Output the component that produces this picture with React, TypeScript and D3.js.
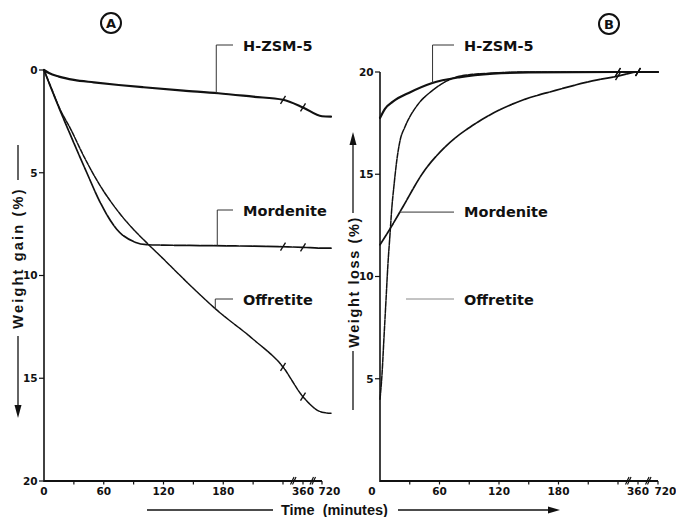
import React from 'react';
import * as d3 from 'd3';

// ---------- data ----------
const timeTicks = [0, 30, 60, 90, 120, 150, 180, 210, 240, 360, 720];
const timeTickLabels = [0, 60, 120, 180, 360, 720];
const timeBreaks = [300, 540];
const valueTicks = [0, 5, 10, 15, 20];
const breakMarkTimes = [240, 360];

// Panel A: weight gain (%)
const aZsmTime = [0, 5, 15, 30, 50, 75, 100, 140, 175, 210, 240, 360, 720, 800];
const aZsmVal = [0, 0.15, 0.32, 0.48, 0.6, 0.73, 0.84, 1.0, 1.13, 1.3, 1.45, 1.82, 2.25, 2.27];
const aMorTime = [0, 8, 16, 26, 43, 56, 73, 90, 103, 120, 170, 240, 360, 720, 800];
const aMorVal = [0, 1.0, 1.95, 3.1, 5.0, 6.4, 7.75, 8.35, 8.5, 8.52, 8.55, 8.6, 8.63, 8.67, 8.67];
const aOffTime = [0, 8, 16, 26, 40, 56, 70, 85, 103, 120, 143, 174, 210, 240, 360, 720, 800];
const aOffVal = [0, 0.95, 1.9, 2.8, 4.2, 5.6, 6.6, 7.5, 8.4, 9.2, 10.3, 11.7, 13.1, 14.45, 15.9, 16.65, 16.7];

// Panel B: weight loss (%)
const bZsmTime = [0, 5, 13, 30, 52, 81, 114, 150, 240, 360, 720];
const bZsmVal = [17.75, 18.2, 18.55, 19.0, 19.45, 19.75, 19.92, 19.98, 20, 20, 20];
const bMorTime = [0, 11, 23, 43, 66, 97, 137, 177, 218, 240, 360, 720];
const bMorVal = [11.55, 12.4, 13.4, 15.05, 16.35, 17.5, 18.5, 19.1, 19.6, 19.8, 20, 20];
const bOffTime = [0, 2, 4, 6, 8, 10, 12, 14, 17, 20, 25, 30, 38, 53, 67, 81, 114, 150, 240, 360, 720];
const bOffVal = [4.0, 5.2, 7.0, 8.8, 10.6, 12.0, 13.4, 14.4, 15.7, 16.6, 17.3, 17.8, 18.4, 19.1, 19.55, 19.8, 19.95, 20, 20, 20, 20];

const seriesNames = ['H-ZSM-5', 'Mordenite', 'Offretite'];

// ---------- layout ----------
const W = 676, H = 517;
const timeDomain = [0, 240, 360, 720, 800];
const xA = d3.scaleLinear().domain(timeDomain).range([44, 283, 303, 322, 331]);
const xB = d3.scaleLinear().domain(timeDomain).range([380, 618, 638, 658, 667]);
const yA = d3.scaleLinear().domain([0, 20]).range([70, 481]);
const yB = d3.scaleLinear().domain([0, 20]).range([481, 72]);

const LABEL_FONT = '"DejaVu Sans", sans-serif';
const TIME_FONT = '"Liberation Sans", Arial, sans-serif';

type Series = { t: number[]; v: number[]; width: number; dash?: string };

const styles = [
  { width: 2.2, dash: undefined },
  { width: 1.7, dash: '12 1.2' },
  { width: 1.5, dash: '5 1.2' },
];

const seriesA: Series[] = [
  { t: aZsmTime, v: aZsmVal, ...styles[0] },
  { t: aMorTime, v: aMorVal, ...styles[1] },
  { t: aOffTime, v: aOffVal, ...styles[2] },
];
const seriesB: Series[] = [
  { t: bZsmTime, v: bZsmVal, ...styles[0] },
  { t: bMorTime, v: bMorVal, ...styles[1] },
  { t: bOffTime, v: bOffVal, ...styles[2] },
];

function valueAt(s: Series, t: number) {
  return d3.scaleLinear().domain(s.t).range(s.v)(t);
}

function Curves({ series, x, y }: { series: Series[]; x: any; y: any }) {
  const gen = d3.line<[number, number]>().x(d => x(d[0])).y(d => y(d[1])).curve(d3.curveMonotoneX);
  return (
    <g>
      {series.map((s, i) => {
        const pts = s.t.map((t, j) => [t, s.v[j]] as [number, number]);
        return (
          <g key={i}>
            <path d={gen(pts) || ''} fill="none" stroke="#111" strokeWidth={s.width}
              strokeDasharray={s.dash} strokeLinejoin="round" strokeLinecap="round" />
            {breakMarkTimes.map(bt => {
              const px = x(bt), py = y(valueAt(s, bt));
              return <line key={bt} x1={px - 2.5} y1={py + 4} x2={px + 2.5} y2={py - 4} stroke="#111" strokeWidth={1.4} />;
            })}
          </g>
        );
      })}
    </g>
  );
}

function TimeAxis({ x, y0, zeroDx }: { x: any; y0: number; zeroDx: number }) {
  return (
    <g stroke="#111" fill="none">
      <line x1={x(0)} y1={y0} x2={x(720)} y2={y0} strokeWidth={1.8} />
      {timeTicks.filter(t => t > 0).map(t => (
        <line key={t} x1={x(t)} y1={y0} x2={x(t)} y2={y0 + 3.5} strokeWidth={1.2} />
      ))}
      {timeBreaks.map(t => (
        <g key={t}>
          <line x1={x(t) - 2.5} y1={y0 + 3.5} x2={x(t) + 1} y2={y0 - 4} strokeWidth={1.2} />
          <line x1={x(t) - 0.5} y1={y0 + 3.5} x2={x(t) + 3} y2={y0 - 4} strokeWidth={1.2} />
        </g>
      ))}
      {timeTickLabels.map(t => (
        <text key={t} x={t === 0 ? x(t) + zeroDx : t === 720 ? x(t) - 3.5 : x(t)} y={y0 + 14}
          textAnchor={t === 720 ? 'start' : 'middle'} stroke="none" fill="#111"
          fontFamily={LABEL_FONT} fontWeight="bold" fontSize={10.5}>{t}</text>
      ))}
    </g>
  );
}

function ValueAxis({ y, x0, y1, y2, labelZero }: { y: any; x0: number; y1: number; y2: number; labelZero: boolean }) {
  return (
    <g stroke="#111" fill="none">
      <line x1={x0} y1={y1} x2={x0} y2={y2} strokeWidth={1.6} />
      {valueTicks.map(v => (
        <g key={v}>
          {(v !== 0 || labelZero) && <line x1={x0 - 5} y1={y(v)} x2={x0} y2={y(v)} strokeWidth={1.2} />}
          {(v !== 0 || labelZero) && (
            <text x={x0 - 6.5} y={y(v) + 3.8} textAnchor="end" stroke="none" fill="#111"
              fontFamily={LABEL_FONT} fontWeight="bold" fontSize={10.5}>{v}</text>
          )}
        </g>
      ))}
    </g>
  );
}

function Label({ text, x, y }: { text: string; x: number; y: number }) {
  return (
    <text x={x} y={y} fontFamily={LABEL_FONT} fontWeight="bold" fontSize={14.5} fill="#111">{text}</text>
  );
}

function CircleTag({ cx, cy, letter }: { cx: number; cy: number; letter: string }) {
  return (
    <g>
      <circle cx={cx} cy={cy} r={10} fill="none" stroke="#111" strokeWidth={2} />
      <text x={cx} y={cy + 4.8} textAnchor="middle" fontFamily={LABEL_FONT} fontWeight="bold" fontSize={13} fill="#111">{letter}</text>
    </g>
  );
}

export default function App() {
  const aLeadT = [173, 174, 172];
  const aLeadY = [45, 210, 299];
  const aTextY = [51, 216, 305];
  const bZsmT = 53, bMorT = 20;
  const bZsmY = yB(valueAt(seriesB[0], bZsmT));
  const bMorY = yB(valueAt(seriesB[1], bMorT));

  return (
    <svg width={W} height={H} style={{ position: 'absolute', left: 0, top: 0, background: '#fff' }}>
      <rect x={0} y={0} width={W} height={H} fill="#fff" />

      {/* Panel A */}
      <CircleTag cx={111} cy={23} letter="A" />
      <ValueAxis y={yA} x0={44} y1={yA(0)} y2={yA(20) + 1} labelZero={true} />
      <TimeAxis x={xA} y0={yA(20)} zeroDx={0} />
      <Curves series={seriesA} x={xA} y={yA} />
      {seriesA.map((s, i) => {
        const lx = xA(aLeadT[i]);
        const cy = yA(valueAt(s, aLeadT[i]));
        return (
          <g key={i} stroke="#333" strokeWidth={1}>
            <line x1={lx} y1={aLeadY[i]} x2={lx} y2={cy} />
            <line x1={lx} y1={aLeadY[i]} x2={233} y2={aLeadY[i]} />
          </g>
        );
      })}
      {seriesNames.map((n, i) => <Label key={n} text={n} x={243} y={aTextY[i]} />)}

      {/* Y title A */}
      <g stroke="#111" strokeWidth={1.3}>
        <line x1={18} y1={145} x2={18} y2={180} />
        <line x1={18} y1={336} x2={18} y2={408} />
      </g>
      <path d="M14.5,405 L21.5,405 L18,418 Z" fill="#111" />
      <text transform="translate(23,258) rotate(-90)" textAnchor="middle" fontFamily={TIME_FONT}
        fontWeight="bold" fontSize={14.5} letterSpacing={2.2} fill="#111"
        style={{ whiteSpace: 'pre' }}>{'Weight gain (%)'}</text>

      {/* Panel B */}
      <CircleTag cx={609} cy={24} letter="B" />
      <ValueAxis y={yB} x0={380} y1={yB(20)} y2={yB(0) + 1} labelZero={false} />
      <TimeAxis x={xB} y0={yB(0)} zeroDx={-8} />
      <Curves series={seriesB} x={xB} y={yB} />
      <g stroke="#333" strokeWidth={1}>
        <line x1={xB(bZsmT)} y1={45} x2={xB(bZsmT)} y2={bZsmY} />
        <line x1={xB(bZsmT)} y1={45} x2={454} y2={45} />
        <line x1={xB(bMorT)} y1={bMorY} x2={454} y2={bMorY} />
        <line x1={406} y1={299} x2={454} y2={299} stroke="#888" />
      </g>
      <Label text={seriesNames[0]} x={464} y={51} />
      <Label text={seriesNames[1]} x={464} y={217} />
      <Label text={seriesNames[2]} x={464} y={305} />

      {/* Y title B */}
      <g stroke="#111" strokeWidth={1.3}>
        <line x1={353} y1={142} x2={353} y2={213} />
        <line x1={353} y1={351} x2={353} y2={410} />
      </g>
      <path d="M349.5,145 L356.5,145 L353,132 Z" fill="#111" />
      <text transform="translate(359,282) rotate(-90)" textAnchor="middle" fontFamily={TIME_FONT}
        fontWeight="bold" fontSize={14.5} letterSpacing={1.6} fill="#111"
        style={{ whiteSpace: 'pre' }}>{'Weight loss (%)'}</text>

      {/* Time axis title */}
      <g stroke="#111" strokeWidth={1.3}>
        <line x1={147} y1={510} x2={273} y2={510} />
        <line x1={398} y1={510} x2={550} y2={510} />
      </g>
      <path d="M548,506.5 L548,513.5 L560,510 Z" fill="#111" />
      <text x={281} y={515} fontFamily={TIME_FONT} fontWeight="bold" fontSize={14.5} fill="#111"
        style={{ whiteSpace: 'pre' }}>{'Time  (minutes)'}</text>
    </svg>
  );
}
